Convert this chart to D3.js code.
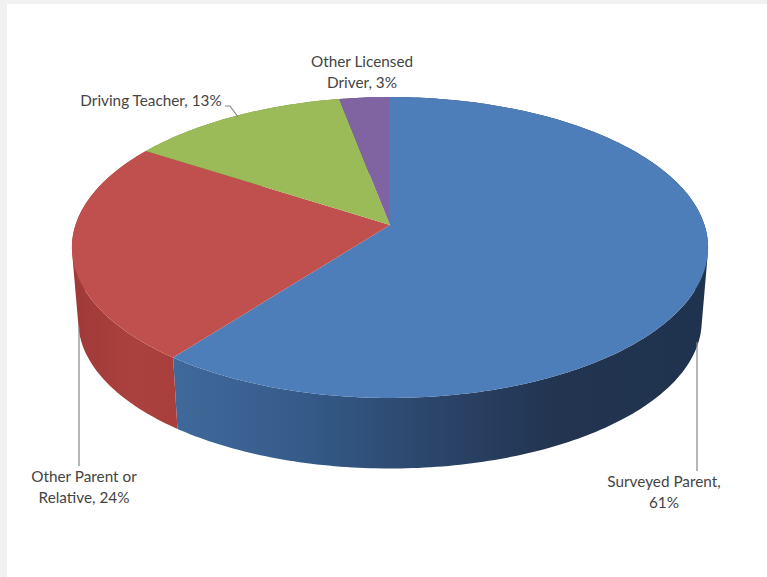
<!DOCTYPE html>
<html>
<head>
<meta charset="utf-8">
<style>
  html, body { margin: 0; padding: 0; background: #fff; }
  svg { display: block; }
  text { font-family: Lato, "Open Sans", sans-serif; font-size: 15.3px; fill: #444; text-anchor: middle; }
</style>
<script src="https://cdn.jsdelivr.net/npm/d3@7"></script>
</head>
<body>
<svg id="chart" width="767" height="577"></svg>
<script>
// Who taught the teen to drive: share of respondents per group.
const categories = ["Surveyed Parent", "Other Parent or Relative", "Driving Teacher", "Other Licensed Driver"];
const shares = [61, 24, 13, 3];
const labelLines = [
  ["Surveyed Parent,", "61%"],
  ["Other Parent or", "Relative, 24%"],
  ["Driving Teacher, 13%"],
  ["Other Licensed", "Driver, 3%"]
];
const topColors = ["#4d7eb9", "#c0504d", "#9bbb59", "#8064a2"];

const width = 767, height = 577;
const svg = d3.select("#chart");

// Disc seen in perspective: screen position of a unit-circle point at a given angle.
const apexX = 390, apexY = 225;
const tilt = -0.1495, spreadX = 314.5, spreadY = 147.1;
const rimDepth = 74, rimShrink = 0.98;

function project(angle, face) {
  const u = Math.sin(angle), v = -Math.cos(angle);
  const w = 1 + tilt * v;
  const k = face === "bottom" ? rimShrink : 1;
  const dy = face === "bottom" ? rimDepth : 0;
  return [apexX + k * spreadX * u / w, apexY + dy + k * spreadY * v / w];
}

function arcAngles(start, end) {
  const n = Math.max(2, Math.ceil((end - start) * 60));
  return d3.range(n + 1).map(i => start + (end - start) * i / n);
}

const pie = d3.pie().sort(null).value(d => d);
const slices = pie(shares);
const line = d3.line();

// Page frame: pale strips along the top and left edges.
svg.append("rect").attr("width", width).attr("height", height).attr("fill", "#fff");
svg.append("rect").attr("width", width).attr("height", 4).attr("fill", "#f1f1f1");
svg.append("rect").attr("width", 7).attr("height", height).attr("fill", "#f1f1f1");

// Shading along the rim, darkening toward the right.
const defs = svg.append("defs");
const rimStops = [
  [[0, "#40699b"], [0.25, "#345a88"], [0.5, "#2b4468"], [0.72, "#223450"], [1, "#1f324e"]],
  [[0, "#a03a38"], [0.6, "#ab413e"], [1, "#a83f3c"]],
  [[0, "#7a8f44"], [1, "#7a8f44"]],
  [[0, "#614c7c"], [1, "#614c7c"]]
];
const rimExtents = [[176, 705], [76, 176], [150, 340], [340, 390]];
rimStops.forEach((stops, i) => {
  const g = defs.append("linearGradient")
    .attr("id", "rim" + i)
    .attr("gradientUnits", "userSpaceOnUse")
    .attr("x1", rimExtents[i][0]).attr("x2", rimExtents[i][1])
    .attr("y1", 0).attr("y2", 0);
  g.selectAll("stop").data(stops).join("stop")
    .attr("offset", d => d[0])
    .attr("stop-color", d => d[1]);
});

// Rim walls: each short arc step is swept from the top face down to the bottom face,
// so the wall keeps its full outline at the left and right silhouettes.
function wallPath(d) {
  const angles = arcAngles(d.startAngle, d.endAngle);
  return d3.pairs(angles).map(([a, b]) => {
    const quad = [project(a, "top"), project(b, "top"), project(b, "bottom"), project(a, "bottom")];
    return line(d3.polygonHull(quad)) + "Z";
  }).join("");
}
svg.append("g").selectAll("path").data(slices).join("path")
  .attr("d", wallPath)
  .attr("fill", d => `url(#rim${d.index})`);

// Top faces over the walls.
svg.append("g").selectAll("path").data(slices).join("path")
  .attr("d", d => line([[apexX, apexY]].concat(arcAngles(d.startAngle, d.endAngle).map(a => project(a, "top")))) + "Z")
  .attr("fill", d => topColors[d.index]);

// Leader lines.
const leaders = [
  [[697, 342], [697, 471]],
  [[79, 327], [79, 466]],
  [[225, 106], [230, 106], [238, 117]]
];
svg.append("g").selectAll("path").data(leaders).join("path")
  .attr("d", line)
  .attr("fill", "none")
  .attr("stroke", "#868686")
  .attr("stroke-width", 1.2);

// Category labels.
const labelAnchors = [[664, 487], [84, 482], [151, 106], [362, 67]];
const lineStep = 21;
const labels = svg.append("g").selectAll("text").data(labelLines).join("text")
  .attr("aria-label", (d, i) => categories[i])
  .attr("transform", (d, i) => `translate(${labelAnchors[i][0]},${labelAnchors[i][1]})`);
labels.selectAll("tspan").data(d => d).join("tspan")
  .attr("x", 0)
  .attr("y", (d, i) => i * lineStep)
  .text(d => d);
</script>
</body>
</html>
